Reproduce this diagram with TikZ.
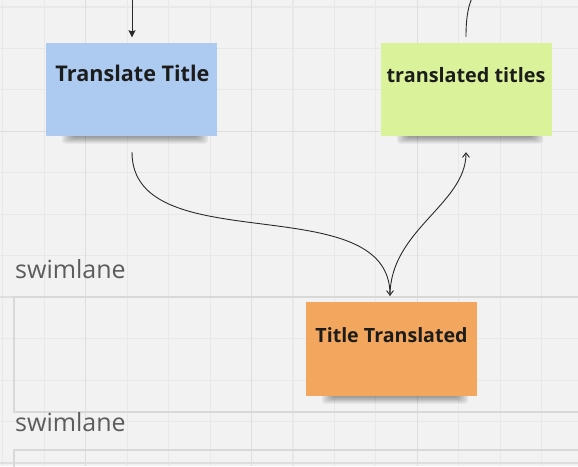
\documentclass[tikz,border=0pt]{standalone}
\usepackage{fontspec}
\setmainfont{Open Sans}
\usetikzlibrary{arrows.meta,calc}
\definecolor{bg}{HTML}{F2F2F2}
\definecolor{gridminor}{HTML}{E8E8E8}
\definecolor{gridmajor}{HTML}{DEDEDE}
\definecolor{lanecol}{HTML}{D8D8D8}
\definecolor{lanetext}{HTML}{5C5C5C}
\definecolor{stickyblue}{HTML}{ADCBF1}
\definecolor{stickygreen}{HTML}{DAF39A}
\definecolor{stickyorange}{HTML}{F2A65E}
\definecolor{inkcol}{HTML}{1C1C1C}
\definecolor{linecol}{HTML}{2A2A2A}
\tikzset{
  minorline/.style={gridminor, line width=1.1pt},
  majorline/.style={gridmajor, line width=1.5pt},
  laneline/.style={lanecol, line width=1.2pt},
  lanelabel/.style={anchor=base west, inner sep=0pt, text=lanetext, font=\fontsize{25}{28}\selectfont},
  sticky/.style={draw=none, minimum width=171pt, minimum height=93pt, inner sep=0pt},
  stickytext/.style={anchor=base, inner sep=0pt, text=inkcol},
  conn/.style={linecol, line width=0.9pt},
  openhead/.style={-{Straight Barb[length=4.5pt,width=7pt,line width=0.9pt]}},
  solidhead/.style={-{Stealth[length=7pt,width=7pt,inset=1pt]}}
}
\begin{document}
\begin{tikzpicture}[x=1pt,y=-1pt]
\useasboundingbox (0,0) rectangle (578,466);
\fill[bg] (0,0) rectangle (578,466);
\begin{scope}
\clip (0,0) rectangle (578,466);
% grid
\foreach \i in {0,...,14} {\draw[minorline] ({2.8+41.45*\i},0) -- ++(0,466);}
\foreach \i in {0,...,11} {\draw[minorline] (0,{7+41.45*\i}) -- ++(578,0);}
\foreach \i in {2,6,10} {\draw[majorline] ({2.8+41.45*\i},0) -- ++(0,466);}
\foreach \i in {3,7,11} {\draw[majorline] (0,{7+41.45*\i}) -- ++(578,0);}
% swimlanes
\draw[laneline] (580,297) -- (14,297) -- (14,412) -- (580,412);
\draw[laneline] (580,450) -- (14,450) -- (14,470);
\end{scope}
\node[lanelabel] (lane1) at (15,278.7) {swimlane};
\node[lanelabel] (lane2) at (15,431) {swimlane};
% shadows
\foreach \l/\r/\b in {46/217/136, 381/552/136, 306/477/396} {
  \foreach \k in {0,...,5} {
    \fill[black, opacity=0.065, rounded corners=3pt] ({\l+16+2*\k},{\b-20}) rectangle ({\r-9-2*\k},{\b+7.5-1.2*\k});
  }
}
% sticky notes
\node[sticky, fill=stickyblue] (blue) at (131.5,89.5) {};
\node[sticky, fill=stickygreen] (green) at (466.5,89.5) {};
\node[sticky, fill=stickyorange, minimum height=94pt] (orange) at (391.5,349) {};
\node[stickytext, font=\bfseries\fontsize{21.6}{24}\selectfont] (blueT) at (132.5,81.7) {Translate Title};
\node[stickytext, font=\bfseries\fontsize{19.8}{22}\selectfont] (greenT) at (466,82.3) {translated titles};
\node[stickytext, font=\bfseries\fontsize{19.6}{22}\selectfont] (orangeT) at (391.5,342.3) {Title Translated};
% connectors
\coordinate (topin) at (132,-2);
\coordinate (topout) at (472,-2);
\draw[conn, solidhead] (topin) -- ($(blue.north)+(0.5,-5.5)$);
\draw[conn] ($(green.north)+(-0.5,-6)$) .. controls ($(green.north)+(-0.5,-28)$) and ($(green.north)+(2.5,-38)$) .. (topout);
\draw[conn, openhead] ($(blue.south)+(0.5,16)$) .. controls ($(blue.south)+(0.5,126)$) and ($(orange.north)+(-1.5,-116)$) .. ($(orange.north)+(-1.5,-6)$);
\draw[conn, openhead] ($(orange.north)+(-1.5,-6)$) .. controls ($(orange.north)+(-1.5,-72)$) and ($(green.south)+(-0.5,68)$) .. ($(green.south)+(-0.5,16)$);
\end{tikzpicture}
\end{document}
